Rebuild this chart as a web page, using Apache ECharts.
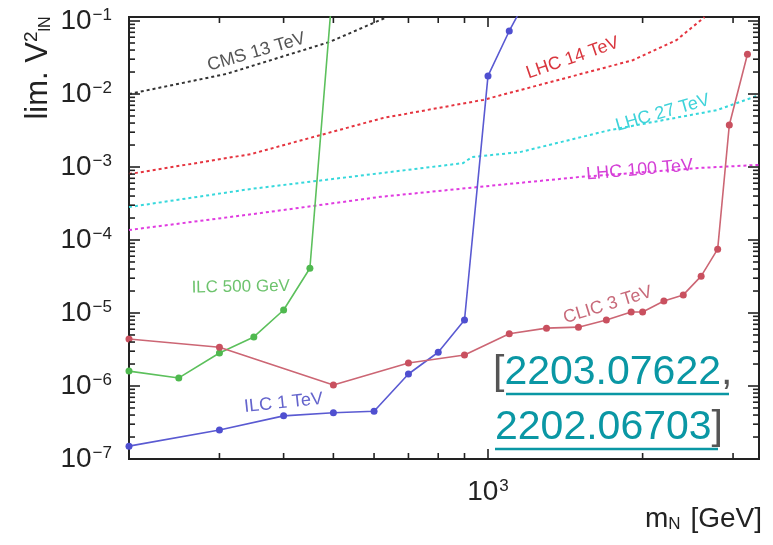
<!DOCTYPE html>
<html><head><meta charset="utf-8">
<script src="https://cdn.jsdelivr.net/npm/echarts@6/dist/echarts.min.js"></script>
<style>html,body{margin:0;padding:0;background:#fff}#c{width:773px;height:545px}</style>
</head><body><div id="c"></div>
<script>
// ---------------- data ----------------
const clicMass = [200, 300, 500, 700, 900, 1100, 1300, 1500, 1700, 1900, 2000, 2200, 2400, 2600, 2800, 2950, 3200];
const clicV    = [4.4e-6, 3.4e-6, 1.03e-6, 2.07e-6, 2.66e-6, 5.2e-6, 6.2e-6, 6.4e-6, 8.0e-6, 1.03e-5, 1.03e-5, 1.46e-5, 1.77e-5, 3.2e-5, 7.5e-5, 3.76e-3, 3.5e-2];
const ilc500Mass = [200, 250, 300, 350, 400, 450, 500];
const ilc500V    = [1.6e-6, 1.29e-6, 2.83e-6, 4.7e-6, 1.1e-5, 4.1e-5, 0.38];
const ilc1Mass = [200, 300, 400, 500, 600, 700, 800, 900, 1000, 1100, 1200];
const ilc1V    = [1.5e-7, 2.5e-7, 3.9e-7, 4.3e-7, 4.5e-7, 1.46e-6, 2.9e-6, 8.0e-6, 1.77e-2, 7.3e-2, 0.23];
const cmsMass = [200, 309, 491, 630];
const cmsV    = [1.0e-2, 1.88e-2, 5.15e-2, 0.11];
const lhc14Mass = [200, 345, 625, 978, 1154, 1913, 2330, 2640];
const lhc14V    = [8.0e-4, 1.5e-3, 4.7e-3, 8.3e-3, 1.13e-2, 2.9e-2, 0.055, 0.113];
const lhc27Mass = [200, 345, 894, 931, 1154, 1725, 2785, 3370];
const lhc27V    = [2.83e-4, 5.0e-4, 1.13e-3, 1.37e-3, 1.6e-3, 3.2e-3, 6.0e-3, 9.6e-3];
const lhc100Mass = [200, 361, 617, 1055, 1509, 2580, 3370];
const lhc100V    = [1.37e-4, 2.34e-4, 3.9e-4, 5.7e-4, 7.3e-4, 9.7e-4, 1.07e-3];

// curve labels
const curveLabelText = ['CMS 13 TeV', 'LHC 14 TeV', 'LHC 27 TeV', 'LHC 100 TeV', 'ILC 500 GeV', 'ILC 1 TeV', 'CLIC 3 TeV'];
const curveLabelMass = [354, 1462, 2188, 1974, 330, 400, 1711];
const curveLabelV    = [0.0376, 0.0311, 5.5e-3, 9.1e-4, 2.27e-5, 5.85e-7, 1.29e-5];

// axis ticks
const xMin = 200, xMax = 3370;
const yMin = 1e-7, yMax = 0.1135;
const xMajorTicks = [1000];
const xMinorTicks = [300, 400, 500, 600, 700, 800, 900, 2000, 3000];
const yMajorTicks = [1e-7, 1e-6, 1e-5, 1e-4, 1e-3, 1e-2, 1e-1];
const yMinorSteps = [2, 3, 4, 5, 6, 7, 8, 9];
const yMinorTicks = [];
yMajorTicks.slice(0, -1).forEach(d => yMinorSteps.forEach(k => yMinorTicks.push(k * d)));

const citeLine1 = '2203.07622';
const citeLine2 = '2202.06703';

// ---------------- chart ----------------
const FONT = '"Liberation Sans", Arial, sans-serif';
const AX = '#222';
const MAJOR_LEN = 10, MINOR_LEN = 6, TICK_W = 1.6;
function pairs(xs, ys) { return xs.map((x, i) => [x, ys[i]]); }
function powLabel(v) {
  const e = Math.round(Math.log10(v));
  return '10{sup|' + (e < 0 ? '\u2212' + (-e) : e) + '}';
}
const supRich = { sup: { fontSize: 17, verticalAlign: 'top', color: AX, fontFamily: FONT, padding: [0, 0, 0, 1] } };

const xAxis = {
  type: 'log', position: 'bottom', min: xMin, max: xMax,
  axisLine: { show: false }, axisTick: { show: false }, splitLine: { show: false },
  axisLabel: { show: true, customValues: xMajorTicks, formatter: powLabel, fontSize: 28, color: AX, fontFamily: FONT, margin: 19, rich: supRich },
  name: 'm{sub|N} [GeV]', nameLocation: 'end', nameGap: 3, nameMoveOverlap: false,
  nameTextStyle: { fontSize: 28, color: AX, fontFamily: FONT, align: 'right', verticalAlign: 'top', padding: [46, 0, 0, 0],
    rich: { sub: { fontSize: 17, verticalAlign: 'bottom', color: AX, fontFamily: FONT, padding: [0, 2, 0, 0] } } }
};
const yAxis = {
  type: 'log', position: 'left', min: yMin, max: yMax,
  axisLine: { show: false }, axisTick: { show: false }, splitLine: { show: false },
  axisLabel: { show: true, customValues: yMajorTicks, formatter: powLabel, fontSize: 28, color: AX, fontFamily: FONT, margin: 17, rich: supRich }
};

function lineSeries(name, xs, ys, color, dotColor, dotted) {
  return {
    type: 'line', name, data: pairs(xs, ys), clip: true,
    symbol: dotted ? 'none' : 'circle', symbolSize: 7, showSymbol: !dotted,
    lineStyle: { color, width: dotted ? 2 : 1.6, type: dotted ? [3, 3] : 'solid' },
    itemStyle: { color: dotColor || color }, z: dotted ? 2 : 3
  };
}
const labelColors = ['#555555', '#d9363e', '#3fd3da', '#d43fd6', '#6dc36d', '#6464cc', '#c86a7a'];
const labelRot = [16, 19, 16, 5, 1, 6, 17];
const labelSize = [18, 18, 18, 18, 17, 18, 18];

const series = [
  lineSeries('CMS 13 TeV', cmsMass, cmsV, '#333333', null, true),
  lineSeries('LHC 14 TeV', lhc14Mass, lhc14V, '#e5343f', null, true),
  lineSeries('LHC 27 TeV', lhc27Mass, lhc27V, '#37d8dc', null, true),
  lineSeries('LHC 100 TeV', lhc100Mass, lhc100V, '#e03ce0', null, true),
  lineSeries('ILC 500 GeV', ilc500Mass, ilc500V, '#5cc05c', '#4fb94f', false),
  lineSeries('ILC 1 TeV', ilc1Mass, ilc1V, '#5a5ad2', '#4f4fd0', false),
  lineSeries('CLIC 3 TeV', clicMass, clicV, '#cc6674', '#c9505f', false)
];
series.forEach((s, i) => {
  s.markPoint = {
    symbol: 'circle', symbolSize: 1, itemStyle: { color: 'rgba(0,0,0,0)' }, silent: true, animation: false,
    data: [{ coord: [curveLabelMass[i], curveLabelV[i]] }],
    label: { show: true, position: 'inside', formatter: curveLabelText[i], rotate: labelRot[i], color: labelColors[i], fontSize: labelSize[i], fontFamily: FONT }
  };
});

// inward frame ticks: thin rect symbols placed at the tick values by the axis scales
function tickSeries(data, vertical, len, sign) {
  return {
    type: 'scatter', data, silent: true, clip: false, z: 6, animation: false,
    symbol: 'rect',
    symbolSize: vertical ? [TICK_W, len] : [len, TICK_W],
    symbolOffset: vertical ? [0, sign * len / 2] : [sign * len / 2, 0],
    itemStyle: { color: AX, opacity: 1 },
    emphasis: { disabled: true }
  };
}
series.push(
  tickSeries(xMajorTicks.map(v => [v, yMin]), true, MAJOR_LEN, -1),
  tickSeries(xMinorTicks.map(v => [v, yMin]), true, MINOR_LEN, -1),
  tickSeries(xMajorTicks.map(v => [v, yMax]), true, MAJOR_LEN, 1),
  tickSeries(xMinorTicks.map(v => [v, yMax]), true, MINOR_LEN, 1),
  tickSeries(yMajorTicks.map(v => [xMin, v]), false, MAJOR_LEN + 1, 1),
  tickSeries(yMinorTicks.map(v => [xMin, v]), false, MINOR_LEN, 1),
  tickSeries(yMajorTicks.map(v => [xMax, v]), false, MAJOR_LEN + 1, -1),
  tickSeries(yMinorTicks.map(v => [xMax, v]), false, MINOR_LEN, -1)
);

const TEAL = '#0a97a4';
const chart = echarts.init(document.getElementById('c'), null, { renderer: 'canvas' });
chart.setOption({
  animation: false,
  backgroundColor: '#fff',
  grid: { left: 129, right: 14, top: 17, bottom: 86, containLabel: false, outerBoundsMode: 'none',
    show: true, borderColor: AX, borderWidth: 2, backgroundColor: 'transparent' },
  xAxis, yAxis,
  series,
  graphic: [
    { type: 'text', x: 38, y: 68, rotation: Math.PI / 2, z: 10,
      style: { text: 'lim. V{sup|2}{sub|lN}', fontSize: 31, fill: AX, fontFamily: FONT, align: 'center', verticalAlign: 'middle',
        rich: { sup: { fontSize: 19, verticalAlign: 'top', fill: AX, fontFamily: FONT }, sub: { fontSize: 16, verticalAlign: 'bottom', fill: AX, fontFamily: FONT } } } },
    { type: 'text', x: 493, y: 373, z: 10,
      style: { text: '{b|[}{l|' + citeLine1 + '}{b|,}', verticalAlign: 'middle', fontFamily: FONT,
        rich: { b: { fontSize: 41, fill: '#555', fontFamily: FONT }, l: { fontSize: 41, fill: TEAL, fontFamily: FONT } } } },
    { type: 'text', x: 495, y: 428, z: 10,
      style: { text: '{l|' + citeLine2 + '}{b|]}', verticalAlign: 'middle', fontFamily: FONT,
        rich: { b: { fontSize: 41, fill: '#555', fontFamily: FONT }, l: { fontSize: 41, fill: TEAL, fontFamily: FONT } } } },
    { type: 'line', z: 10, shape: { x1: 506, y1: 394, x2: 729, y2: 394 }, style: { stroke: TEAL, lineWidth: 2.5 } },
    { type: 'line', z: 10, shape: { x1: 495, y1: 449, x2: 718, y2: 449 }, style: { stroke: TEAL, lineWidth: 2.5 } }
  ]
});
</script></body></html>
